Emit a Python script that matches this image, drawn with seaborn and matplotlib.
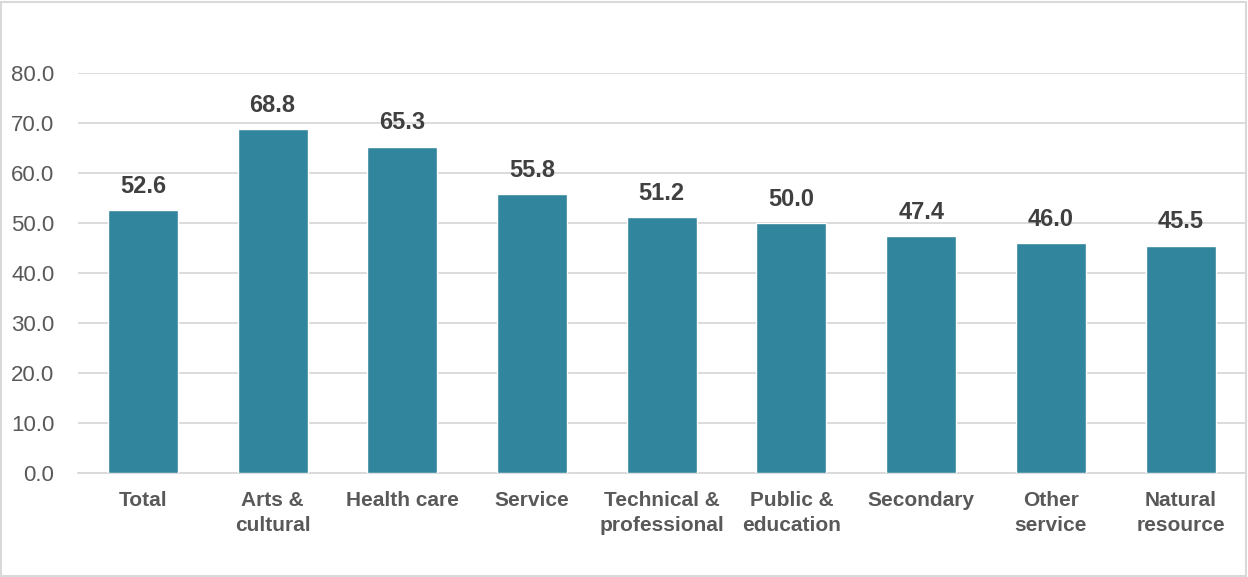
import matplotlib
matplotlib.use("Agg")
import matplotlib.pyplot as plt
import seaborn as sns
import pandas as pd

categories = ["Total", "Arts &\ncultural", "Health care", "Service",
              "Technical &\nprofessional", "Public &\neducation", "Secondary",
              "Other\nservice", "Natural\nresource"]
values = [52.6, 68.8, 65.3, 55.8, 51.2, 50.0, 47.4, 46.0, 45.5]
y_ticks = [0, 10, 20, 30, 40, 50, 60, 70, 80]

sns.set_theme(style="white")
plt.rcParams["font.family"] = ["Liberation Sans", "DejaVu Sans"]

df = pd.DataFrame({"category": categories, "value": values})

fig = plt.figure(figsize=(12.48, 5.77), dpi=100)
ax = fig.add_axes([0.0625, 0.180, 0.9355, 0.6935])

sns.barplot(data=df, x="category", y="value", color="#31859C",
            saturation=1, width=0.54, ax=ax, zorder=3)

ax.set_ylim(0, 80)
ax.set_yticks(y_ticks)
ax.set_yticklabels([f"{t:.1f}" for t in y_ticks], fontsize=16, color="#595959")
ax.yaxis.grid(True, color="#D9D9D9", linewidth=1.3, zorder=0)
ax.set_axisbelow(True)
ax.tick_params(axis="y", length=0, pad=17)
ax.tick_params(axis="x", length=0, pad=13)
for lbl in ax.get_xticklabels():
    lbl.set_fontsize(15)
    lbl.set_fontweight("bold")
    lbl.set_color("#595959")
    lbl.set_linespacing(1.4)
ax.set_xlabel("")
ax.set_ylabel("")
for side in ["top", "right", "left"]:
    ax.spines[side].set_visible(False)
ax.spines["bottom"].set_color("#D9D9D9")
ax.spines["bottom"].set_linewidth(1.3)

for container in ax.containers:
    ax.bar_label(container, labels=[f"{v:.1f}" for v in values], padding=9,
                 fontsize=17, fontweight="bold", color="#404040")

# thin frame around the whole figure
fig.patches.append(plt.Rectangle((0.001, 0.002), 0.997, 0.995, transform=fig.transFigure,
                                 fill=False, edgecolor="#D9D9D9", linewidth=1.5))

fig.savefig("out.png", dpi=100)
